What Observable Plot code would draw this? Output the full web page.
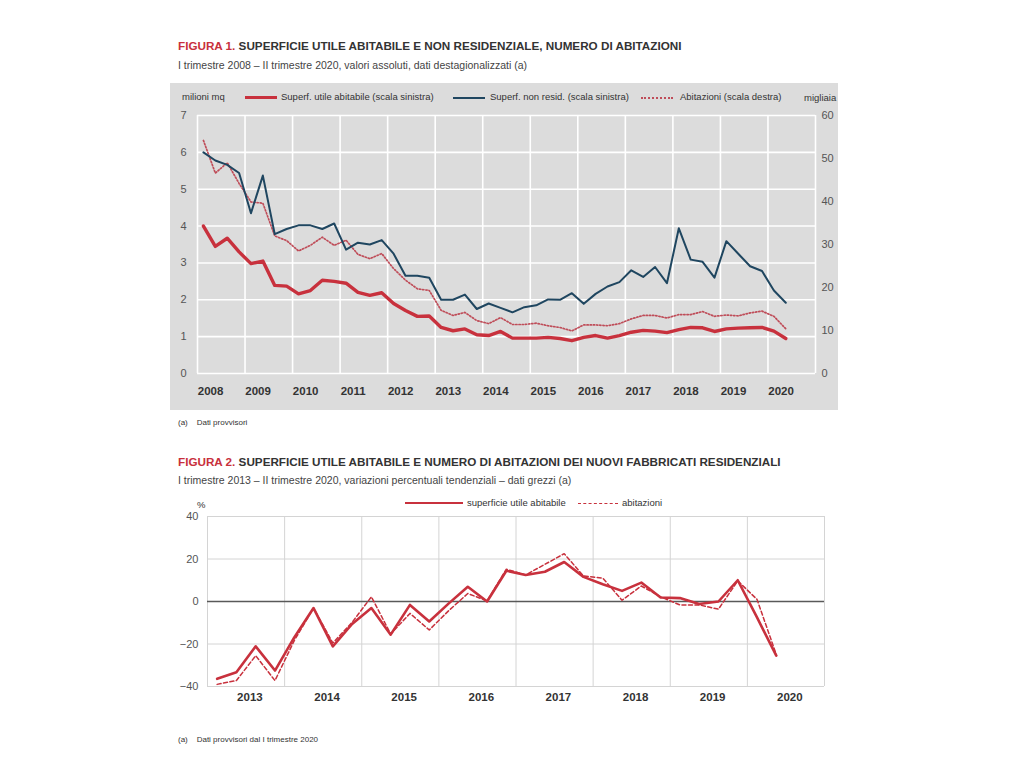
<!DOCTYPE html>
<html>
<head>
<meta charset="utf-8">
<script src="https://cdn.jsdelivr.net/npm/d3@7"></script>
<script src="https://cdn.jsdelivr.net/npm/@observablehq/plot@0.6"></script>
<style>
  body { margin:0; background:#fff; width:1024px; height:768px; position:relative; overflow:hidden;
         font-family:"Liberation Sans Narrow","Arial Narrow","Liberation Sans",Arial,sans-serif; }
  .abs { position:absolute; white-space:nowrap; }
  .title { font-size:11.7px; font-weight:bold; color:#333; }
  .title .fig { color:#c8303c; }
  .sub { font-size:10.5px; color:#444; }
  .note { font-size:8px; color:#333; }
  .leg { font-size:9.5px; color:#333; }
  .sw { position:absolute; }
</style>
</head>
<body>
<script>
// ---------- FIGURA 1 data (I trim. 2008 - II trim. 2020, quarterly) ----------
const years1 = [2008,2009,2010,2011,2012,2013,2014,2015,2016,2017,2018,2019,2020];
// milioni di mq (scala sinistra)
const superfUtile = [4.0,3.45,3.67,3.3,2.98,3.05,2.39,2.37,2.16,2.25,2.53,2.5,
  2.45,2.2,2.12,2.19,1.9,1.71,1.55,1.56,1.25,1.16,1.21,1.05,
  1.03,1.14,0.96,0.96,0.96,0.98,0.95,0.89,0.98,1.03,0.96,1.03,
  1.12,1.17,1.15,1.11,1.19,1.25,1.24,1.14,1.21,1.23,1.24,1.25,
  1.15,0.95];
const superfNonRes = [6.0,5.78,5.66,5.44,4.35,5.37,3.78,3.92,4.02,4.02,3.92,4.07,
  3.36,3.55,3.5,3.62,3.25,2.65,2.65,2.6,2.0,2.0,2.14,1.75,
  1.9,1.78,1.66,1.8,1.85,2.01,2.0,2.18,1.89,2.16,2.36,2.48,
  2.8,2.62,2.89,2.45,3.94,3.09,3.03,2.6,3.59,3.25,2.91,2.78,
  2.25,1.92];
// migliaia (scala destra)
const abitazioni = [54.2,46.6,49.0,44.2,39.9,39.6,32.0,30.9,28.5,29.8,31.7,29.8,
  31.0,27.7,26.7,27.9,24.4,21.7,19.7,19.3,14.7,13.5,14.2,12.3,
  11.6,13.0,11.4,11.4,11.7,11.1,10.7,9.9,11.3,11.3,11.1,11.6,
  12.7,13.5,13.5,12.9,13.7,13.7,14.4,13.3,13.6,13.4,14.1,14.5,
  13.3,10.4];
const leftTicks = [0,1,2,3,4,5,6,7];
const rightTicks = [0,10,20,30,40,50,60];

// ---------- FIGURA 2 data (I trim. 2013 - II trim. 2020, quarterly) ----------
const years2 = [2013,2014,2015,2016,2017,2018,2019,2020];
const varSuperficie = [-36.4,-33.3,-21.1,-32.5,-16.9,-3.1,-21.1,-10.6,-3.1,-15.6,-1.6,-9.4,
  -1.0,6.9,0.0,14.5,12.5,14.0,18.6,11.6,8.1,5.0,8.9,1.9,1.6,-1.2,0.0,10.0,-7.5,-25.5];
const varAbitazioni = [-39.0,-37.2,-25.5,-37.2,-18.4,-3.1,-19.5,-9.8,2.2,-15.3,-5.6,-13.4,
  -4.4,3.75,0.3,15.2,12.5,17.5,22.5,12.0,11.0,0.6,7.3,2.2,-1.6,-1.6,-3.6,9.7,1.0,-25.0];
const yTicks2 = [-40,-20,0,20,40];

const FONT = '"Liberation Sans Narrow","Arial Narrow","Liberation Sans",Arial,sans-serif';
const RED = "#c8313d", BLUE = "#1f4660", DOT = "#bf4d59";

function place(el, x, y) { el.style.position = "absolute"; el.style.left = x + "px"; el.style.top = y + "px"; document.body.appendChild(el); return el; }
function txt(cls, html, x, y) { const d = document.createElement("div"); d.className = "abs " + cls; d.innerHTML = html; return place(d, x, y); }
function swatch(x, y, w, css) { const d = document.createElement("div"); d.className = "sw"; d.style.width = w + "px"; d.style.height = "0px"; d.style.borderTop = css; return place(d, x, y); }

// ---------- Titles FIG 1 ----------
txt("title", '<span class="fig">FIGURA 1.</span> SUPERFICIE UTILE ABITABILE E NON RESIDENZIALE, NUMERO DI ABITAZIONI', 178, 39);
txt("sub", "I trimestre 2008 – II trimestre 2020, valori assoluti, dati destagionalizzati (a)", 178, 59);

// gray panel
const panel = document.createElement("div");
panel.style.width = "668px"; panel.style.height = "327px"; panel.style.background = "#dcdcdc";
place(panel, 170, 83);

const data1 = superfUtile.map((v, i) => ({i, u: v, n: superfNonRes[i], a: abitazioni[i]}));
const toLeft = v => v * 7 / 60;

const chart1 = Plot.plot({
  width: 668, height: 327,
  marginLeft: 27, marginRight: 23, marginTop: 32, marginBottom: 37,
  style: {background: "transparent", fontFamily: FONT, overflow: "visible"},
  x: {type: "linear", domain: [-0.5, 51.5], axis: null},
  y: {domain: [0, 7], axis: null},
  marks: [
    Plot.ruleY(leftTicks, {stroke: "#fff", strokeWidth: 1.6}),
    Plot.ruleX(years1.map((y, k) => 4 * k - 0.5).concat([51.5]), {y1: 0, y2: 7, stroke: "#fff", strokeWidth: 1.6}),
    Plot.line(data1, {x: "i", y: d => toLeft(d.a), stroke: DOT, strokeWidth: 1.7, strokeDasharray: "1.3,1.9"}),
    Plot.line(data1, {x: "i", y: "n", stroke: BLUE, strokeWidth: 2}),
    Plot.line(data1, {x: "i", y: "u", stroke: RED, strokeWidth: 3.4}),
    Plot.axisY(leftTicks, {anchor: "left", label: null, tickSize: 0, tickPadding: 11, fontSize: 11, color: "#555"}),
    Plot.axisY(rightTicks.map(toLeft), {anchor: "right", label: null, tickSize: 0, tickPadding: 6, fontSize: 11, color: "#555",
      tickFormat: d => String(Math.round(d * 60 / 7))}),
    Plot.axisX(years1.map((y, k) => 4 * k + 0.6), {anchor: "bottom", label: null, tickSize: 0, tickPadding: 13, fontSize: 11.5,
      fontWeight: "bold", color: "#333", tickFormat: d => String(years1[Math.round((d - 0.6) / 4)])})
  ]
});
place(chart1, 170, 83);

// legend FIG 1
txt("leg", "milioni mq", 182, 91);
swatch(245, 96, 32, "3.4px solid " + RED);
txt("leg", "Superf. utile abitabile (scala sinistra)", 281, 91);
swatch(453, 97, 32, "2px solid " + BLUE);
txt("leg", "Superf. non resid. (scala sinistra)", 490, 91);
swatch(641, 97, 32, "2px dotted " + DOT);
txt("leg", "Abitazioni (scala destra)", 680, 91);
txt("leg", "migliaia", 804, 92);

txt("note", "(a)&nbsp;&nbsp;&nbsp;&nbsp;Dati provvisori", 178, 418);

// ---------- FIG 2 ----------
txt("title", '<span class="fig">FIGURA 2.</span> SUPERFICIE UTILE ABITABILE E NUMERO DI ABITAZIONI DEI NUOVI FABBRICATI RESIDENZIALI', 178, 455);
txt("sub", "I trimestre 2013 – II trimestre 2020, variazioni percentuali tendenziali – dati grezzi (a)", 178, 474);

const data2 = varSuperficie.map((v, j) => ({j, s: v, a: varAbitazioni[j]}));
const chart2 = Plot.plot({
  width: 668, height: 205,
  marginLeft: 37, marginRight: 14, marginTop: 11, marginBottom: 24,
  style: {background: "transparent", fontFamily: FONT, overflow: "visible"},
  x: {type: "linear", domain: [-0.5, 31.5], axis: null},
  y: {domain: [-40, 40], axis: null},
  marks: [
    Plot.ruleY(yTicks2.filter(v => v !== 0), {stroke: "#d4d4d4", strokeWidth: 1}),
    Plot.ruleX(years2.map((y, k) => 4 * k - 0.5).concat([31.5]), {y1: -40, y2: 40, stroke: "#d4d4d4", strokeWidth: 1}),
    Plot.ruleY([0], {stroke: "#595959", strokeWidth: 1.6}),
    Plot.line(data2, {x: "j", y: "a", stroke: RED, strokeWidth: 1.5, strokeDasharray: "4,2.5"}),
    Plot.line(data2, {x: "j", y: "s", stroke: RED, strokeWidth: 2.6}),
    Plot.axisY(yTicks2, {anchor: "left", label: null, tickSize: 0, tickPadding: 9, fontSize: 11, color: "#555"}),
    Plot.axisX(years2.map((y, k) => 4 * k + 1.7), {anchor: "bottom", label: null, tickSize: 0, tickPadding: 6, fontSize: 11.5,
      fontWeight: "bold", color: "#333", tickFormat: d => String(years2[Math.round((d - 1.7) / 4)])})
  ]
});
place(chart2, 170, 505);

txt("leg", "%", 197, 499);
swatch(405, 502, 58, "2.6px solid " + RED);
txt("leg", "superficie utile abitabile", 467, 497);
swatch(578, 503, 40, "1.5px dashed " + RED);
txt("leg", "abitazioni", 622, 497);

txt("note", "(a)&nbsp;&nbsp;&nbsp;&nbsp;Dati provvisori dal I trimestre 2020", 178, 735);
</script>
</body>
</html>
